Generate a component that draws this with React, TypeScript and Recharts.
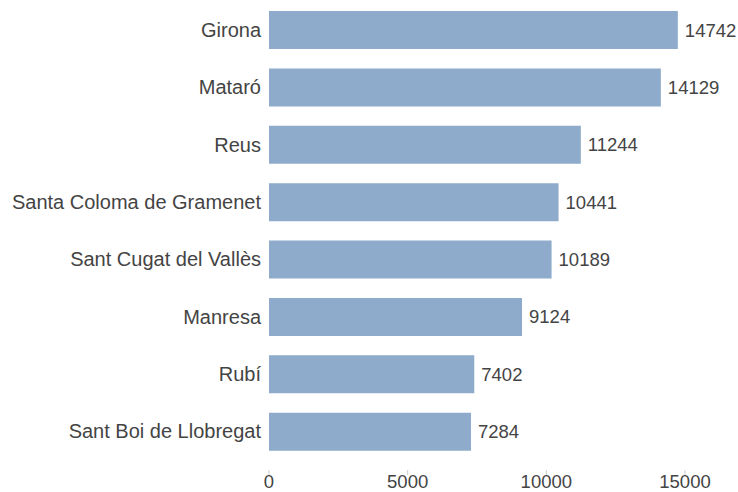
import { BarChart, Bar, XAxis, YAxis, LabelList } from "recharts";

const cities = [
    "Girona",
    "Mataró",
    "Reus",
    "Santa Coloma de Gramenet",
    "Sant Cugat del Vallès",
    "Manresa",
    "Rubí",
    "Sant Boi de Llobregat",
];

const values = [14742, 14129, 11244, 10441, 10189, 9124, 7402, 7284];

const xTicks = [0, 5000, 10000, 15000];

const FONT = "'Liberation Sans', Arial, sans-serif";
const TEXT = "#444444";

const data = cities.map((name, i) => ({ name, value: values[i] }));

function XTick({ x, y, payload }: any) {
    return (
        <g>
            <line x1={x} x2={x} y1={y + 10} y2={y + 15} stroke="#cccccc" />
            <text
                x={x}
                y={y + 28}
                textAnchor="middle"
                fill={TEXT}
                fontSize={18.5}
                fontFamily={FONT}
            >
                {payload.value}
            </text>
        </g>
    );
}

export default function App() {
    return (
        <div style={{ position: "absolute", left: 0, top: 0, background: "#fff" }}>
            <BarChart
                width={738}
                height={492}
                data={data}
                layout="vertical"
                margin={{ top: 1, right: 53, bottom: 0, left: 0 }}
                barCategoryGap="33%"
            >
                <XAxis
                    type="number"
                    domain={[0, 15000]}
                    ticks={xTicks}
                    axisLine={false}
                    tickLine={false}
                    tickSize={0}
                    tickMargin={0}
                    height={32}
                    tick={<XTick />}
                    interval={0}
                />
                <YAxis
                    type="category"
                    dataKey="name"
                    width={269}
                    axisLine={false}
                    tickLine={false}
                    tickSize={0}
                    tickMargin={8}
                    interval={0}
                    tick={{ fontSize: 20, fill: TEXT, fontFamily: FONT }}
                />
                <Bar dataKey="value" fill="#8eabcb" barSize={38} isAnimationActive={false}>
                    <LabelList
                        dataKey="value"
                        position="right"
                        offset={7}
                        fill={TEXT}
                        fontSize={18.5}
                        fontFamily={FONT}
                    />
                </Bar>
            </BarChart>
        </div>
    );
}
